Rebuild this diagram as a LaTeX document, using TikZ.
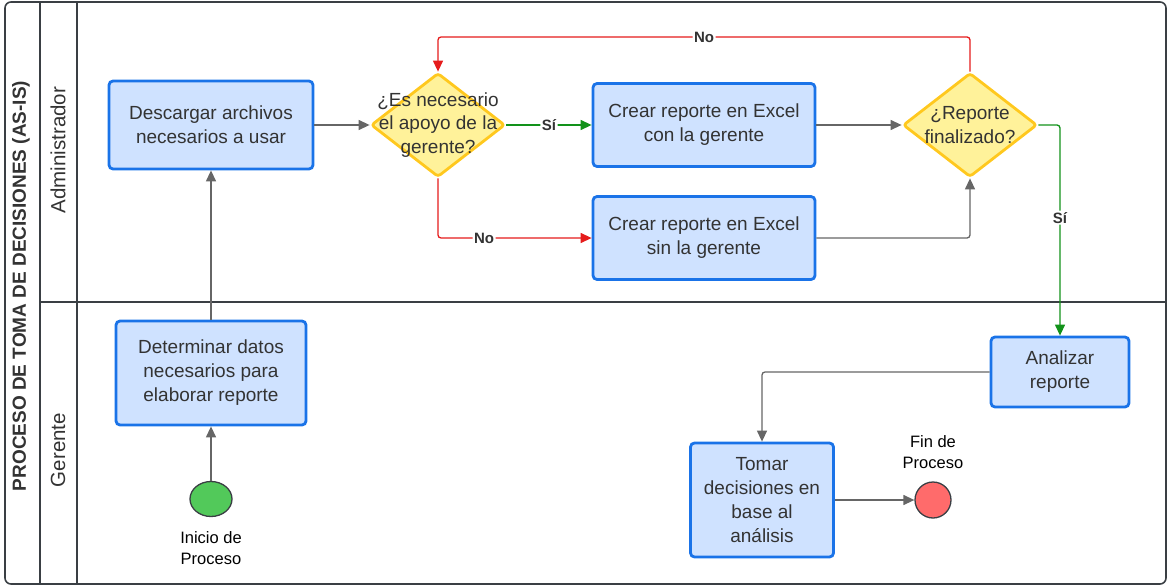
\documentclass[tikz,border=0pt]{standalone}
\usepackage{fontspec}
\setmainfont{Liberation Sans}
\usetikzlibrary{arrows.meta}
\usetikzlibrary{shapes.geometric}
\definecolor{taskfill}{HTML}{CFE2FF}
\definecolor{taskline}{HTML}{1A73E8}
\definecolor{decfill}{HTML}{FFF29A}
\definecolor{decline}{HTML}{FFC81E}
\definecolor{flowgray}{HTML}{666666}
\definecolor{nored}{HTML}{E51C1C}
\definecolor{sigreen}{HTML}{12921A}
\definecolor{txt}{HTML}{333333}
\definecolor{lanegray}{HTML}{3A3F44}
\definecolor{startgreen}{HTML}{52C95A}
\definecolor{endred}{HTML}{FF6B6B}
\tikzset{
  task/.style={draw=taskline, fill=taskfill, line width=2.8pt,
    rounded corners=4pt, align=center, text=txt, inner sep=0pt,
    font=\fontsize{19}{24}\selectfont},
  decision/.style={diamond, draw=decline, fill=decfill, line width=2.8pt,
    rounded corners=3pt, minimum width=134pt, minimum height=104pt,
    inner sep=0pt},
  dectext/.style={align=center, text=txt, font=\fontsize{19}{23.5}\selectfont},
  event/.style={draw=lanegray, line width=1.3pt, inner sep=0pt},
  evlabel/.style={align=center, text=black, font=\fontsize{16.5}{21}\selectfont},
  flow/.style={draw=flowgray, line width=1.3pt, rounded corners=3pt,
    -{Triangle[length=11pt,width=10pt]}},
  yesflow/.style={flow, draw=sigreen},
  noflow/.style={flow, draw=nored},
  cond/.style={fill=white, text=txt, inner sep=1.5pt,
    font=\bfseries\fontsize{15}{15}\selectfont},
  lane/.style={draw=lanegray, line width=1.6pt},
  lanename/.style={rotate=90, text=txt, font=\fontsize{20.5}{20.5}\selectfont}
}
\begin{document}
\begin{tikzpicture}[x=1pt,y=-1pt]
\useasboundingbox (0,0) rectangle (1168,586);
\draw[lane, rounded corners=6pt] (5,2) rectangle (1166,584);
\draw[lane] (40,2)--(40,584);
\draw[lane] (77,2)--(77,584);
\draw[lane] (40,302)--(1166,302);
\node[lanename, font=\bfseries\fontsize{19}{19}\selectfont] (pool) at (21,286) {PROCESO DE TOMA DE DECISIONES (AS-IS)};
\node[lanename] (admin) at (58,150) {Administrador};
\node[lanename] (gerente) at (58,450) {Gerente};

\node[event, ellipse, fill=startgreen, minimum width=42pt, minimum height=35pt] (ini) at (211,499) {};
\node[evlabel] (inilbl) at (211,548) {Inicio de\\Proceso};
\node[task, minimum width=190pt, minimum height=104pt] (datos) at (211,373) {Determinar datos\\necesarios para\\elaborar reporte};
\node[task, minimum width=204pt, minimum height=88pt] (descarga) at (211,125) {Descargar archivos\\necesarios a usar};
\node[decision, label={[dectext]center:{¿Es necesario\\el apoyo de la\\gerente?}}] (apoyo) at (438,125) {};
\node[task, minimum width=222pt, minimum height=83pt] (con) at (704,125) {Crear reporte en Excel\\con la gerente};
\node[task, minimum width=222pt, minimum height=83pt] (sin) at (704,238) {Crear reporte en Excel\\sin la gerente};
\node[decision, label={[dectext]center:{¿Reporte\\finalizado?}}] (fin) at (970,125) {};
\node[task, minimum width=138pt, minimum height=70pt] (analizar) at (1060,372) {Analizar\\reporte};
\node[task, minimum width=143pt, minimum height=114pt] (tomar) at (762,500) {Tomar\\decisiones en\\base al\\análisis};
\node[event, circle, fill=endred, minimum size=36pt] (cierre) at (933,500) {};
\node[evlabel] (cierrelbl) at (933,452) {Fin de\\Proceso};
\coordinate (vuelta) at (970,37);

\draw[flow] (ini)--(datos);
\draw[flow] (datos)--(descarga);
\draw[flow] (descarga)--(apoyo);
\draw[yesflow] (apoyo)--node[cond]{Sí}(con);
\draw[noflow] (apoyo.south) |- node[cond, pos=0.65]{No} (sin.west);
\draw[flow] (con)--(fin);
\draw[flow] (sin.east) -| (fin.south);
\draw[noflow] (fin.north)--(vuelta) -| node[cond, pos=0.25]{No} (apoyo.north);
\draw[yesflow] (fin.east) -| node[cond, pos=0.72]{Sí} (analizar.north);
\draw[flow] (analizar.west) -| (tomar.north);
\draw[flow] (tomar)--(cierre);
\end{tikzpicture}
\end{document}
